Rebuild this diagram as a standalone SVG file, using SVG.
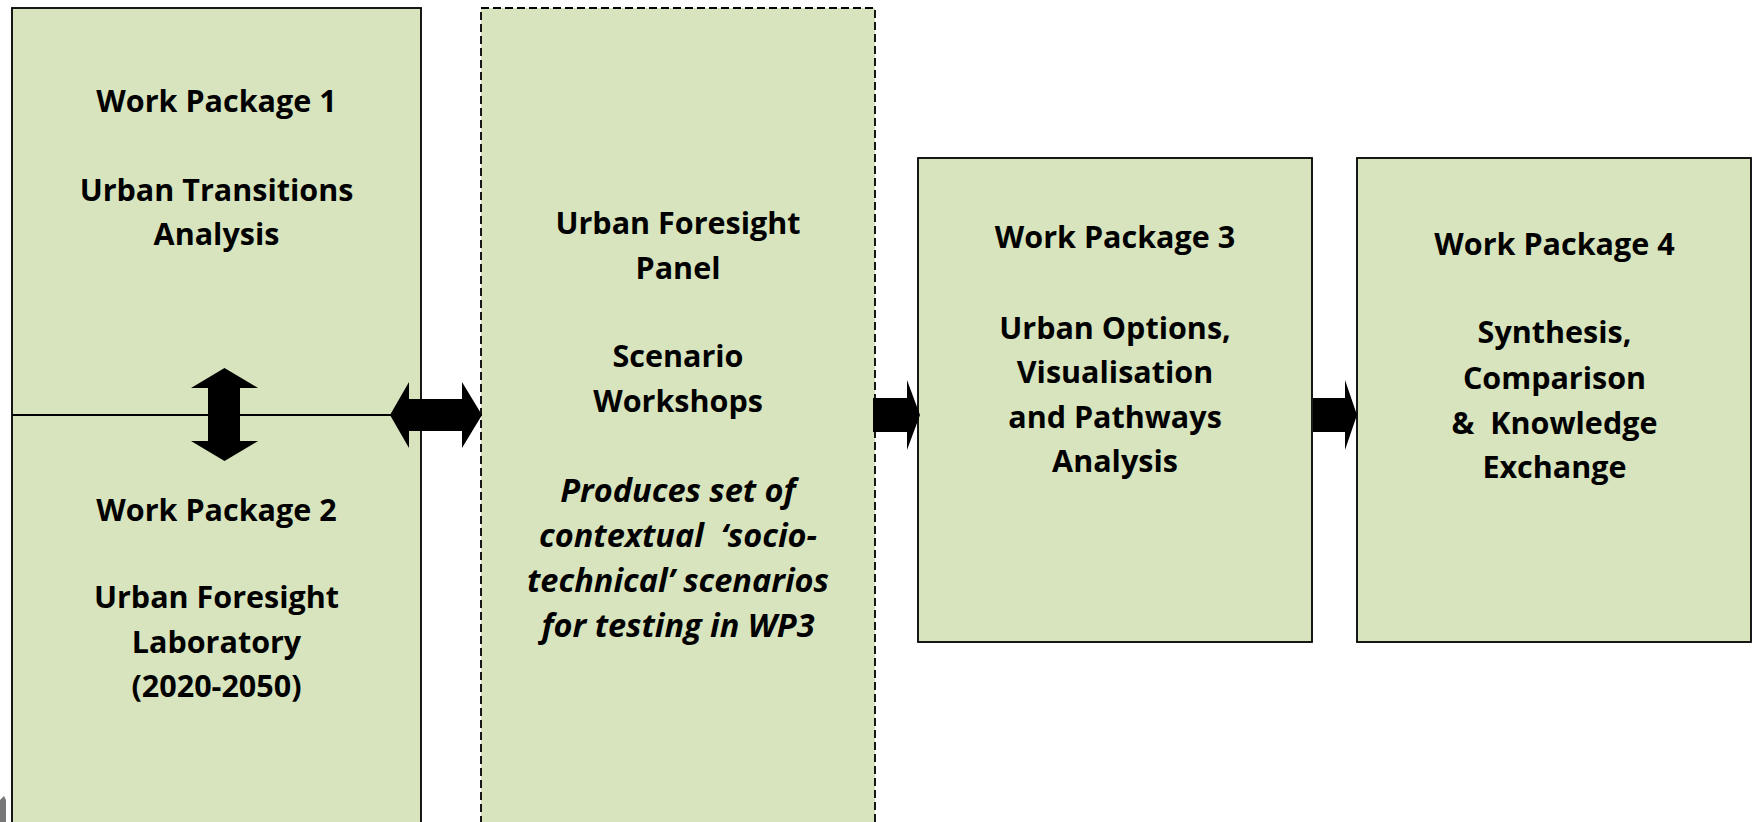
<svg xmlns="http://www.w3.org/2000/svg" width="1756" height="822" viewBox="0 0 1756 822">
<style>
.box{fill:#d7e4bd;stroke:#000;stroke-width:1.8}
.dash{fill:#d7e4bd;stroke:#000;stroke-width:1.8;stroke-dasharray:8 4}
.t{font-family:"Open Sans","Liberation Sans",sans-serif;font-weight:bold;font-size:30.5px;fill:#000;text-anchor:middle;white-space:pre}
.i{font-style:italic;font-size:32.5px}
.arr{fill:#000}
</style>
<rect width="1756" height="822" fill="#fff"/>
<g id="wp1-wp2">
<rect class="box" x="12" y="8" width="409" height="830"/>
<line x1="12" y1="415" x2="421" y2="415" stroke="#000" stroke-width="1.8"/>
<text class="t" x="216.5" y="112">Work Package 1</text>
<text class="t" x="216.5" y="201">Urban Transitions</text>
<text class="t" x="216.5" y="245">Analysis</text>
<text class="t" x="216.5" y="521">Work Package 2</text>
<text class="t" x="216.5" y="608">Urban Foresight</text>
<text class="t" x="216.5" y="653">Laboratory</text>
<text class="t" x="216.5" y="697">(2020-2050)</text>
</g>
<g id="panel">
<rect class="dash" x="481" y="8" width="394" height="830"/>
<text class="t" x="678" y="234">Urban Foresight</text>
<text class="t" x="678" y="279">Panel</text>
<text class="t" x="678" y="367">Scenario</text>
<text class="t" x="678" y="412">Workshops</text>
<text class="t i" x="678" y="502">Produces set of</text>
<text class="t i" x="678" y="547">contextual  ‘socio-</text>
<text class="t i" x="678" y="592">technical’ scenarios</text>
<text class="t i" x="678" y="637">for testing in WP3</text>
</g>
<g id="wp3">
<rect class="box" x="918" y="158" width="394" height="484"/>
<text class="t" x="1115" y="248">Work Package 3</text>
<text class="t" x="1115" y="339">Urban Options,</text>
<text class="t" x="1115" y="383">Visualisation</text>
<text class="t" x="1115" y="428">and Pathways</text>
<text class="t" x="1115" y="472">Analysis</text>
</g>
<g id="wp4">
<rect class="box" x="1357" y="158" width="394" height="484"/>
<text class="t" x="1554.5" y="255">Work Package 4</text>
<text class="t" x="1554.5" y="343">Synthesis,</text>
<text class="t" x="1554.5" y="389">Comparison</text>
<text class="t" x="1554.5" y="434">&amp;  Knowledge</text>
<text class="t" x="1554.5" y="478">Exchange</text>
</g>
<g id="connectors">
<polygon class="arr" points="224.5,368 258,388 240,388 240,441 258,441 224.5,461 191,441 208,441 208,388 191,388"/>
<polygon class="arr" points="390,415 409,382 409,399 462,399 462,382 482,415 462,448 462,431 409,431 409,448"/>
<polygon class="arr" points="873,398 907,398 907,380 920,415 907,450 907,432 873,432"/>
<polygon class="arr" points="1313,398 1345,398 1345,380 1357,415 1345,450 1345,432 1313,432"/>
</g>
<path d="M0,800 L4,796 L6,800 L6,822 L0,822 Z" fill="#777"/>
</svg>
